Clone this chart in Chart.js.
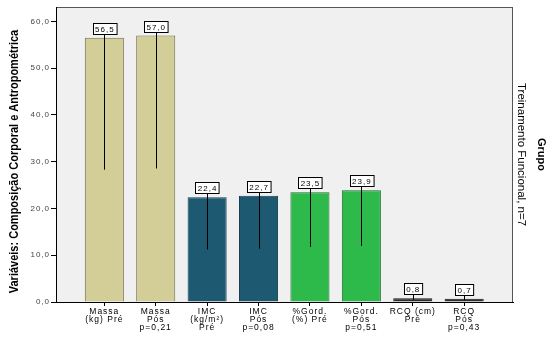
<!DOCTYPE html>
<html>
<head>
<meta charset="utf-8">
<script src="https://cdn.jsdelivr.net/npm/chart.js@4"></script>
<style>
    html, body { margin: 0; padding: 0; background: #fff; }
    #wrap { width: 559px; height: 340px; }
</style>
</head>
<body>
<div id="wrap"><canvas id="chart" width="559" height="340"></canvas></div>
<script>
'use strict'

const categories = [
    ['Massa', '(kg) Pré'],
    ['Massa', 'Pós', 'p=0,21'],
    ['IMC', '(kg/m²)', 'Pré'],
    ['IMC', 'Pós', 'p=0,08'],
    ['%Gord.', '(%) Pré'],
    ['%Gord.', 'Pós', 'p=0,51'],
    ['RCQ (cm)', 'Pré'],
    ['RCQ', 'Pós', 'p=0,43']
];
const values = [56.5, 57.0, 22.4, 22.7, 23.5, 23.9, 0.8, 0.7];
const barColors = ['#d3ce97', '#d3ce97', '#1d5a72', '#1d5a72', '#2eb94b', '#2eb94b', '#2c2c2c', '#2c2c2c'];
const barBorders = ['#6e6c4e', '#6e6c4e', '#163f50', '#163f50', '#1f6a30', '#1f6a30', '#1a1a1a', '#1a1a1a'];
const yTicks = [0, 10, 20, 30, 40, 50, 60];
const yTitle = 'Variáveis: Composição Corporal e Antropométrica';
const groupTitle = 'Grupo';
const groupName = 'Treinamento Funcional, n=7';

const positions = categories.map((c, i) => i + 1);
const fmt = v => v.toFixed(1).replace('.', ',');
const FONT = "'Liberation Sans', Arial, sans-serif";

function vText(ctx, text, x, y, font, angle, squeeze) {
    ctx.save();
    ctx.letterSpacing = '0px';
    ctx.fillStyle = '#000';
    ctx.textAlign = 'center';
    ctx.textBaseline = 'middle';
    ctx.font = font;
    ctx.translate(x, y);
    ctx.rotate(angle);
    ctx.scale(squeeze || 1, 1);
    ctx.fillText(text, 0, 0);
    ctx.restore();
}

const frame = {
    id: 'frame',
    beforeDraw(chart) {
        const { ctx, chartArea: a } = chart;
        // SPSS-style spaced lettering for tick and value labels
        ctx.letterSpacing = '1px';
        ctx.save();
        ctx.fillStyle = '#f0f0f0';
        ctx.fillRect(a.left, a.top, a.right - a.left, a.bottom - a.top);
        ctx.strokeStyle = '#555';
        ctx.lineWidth = 1;
        ctx.strokeRect(a.left + 0.5, a.top + 0.5, a.right - a.left - 1, a.bottom - a.top);
        ctx.restore();
    },
    afterDraw(chart) {
        const { ctx, chartArea: a } = chart;
        const cy = (a.top + a.bottom) / 2;
        vText(ctx, groupTitle, 541, cy, 'bold 11px ' + FONT, Math.PI / 2);
        vText(ctx, groupName, 521, cy, '11.5px ' + FONT, Math.PI / 2);
        vText(ctx, yTitle, 15, cy + 7, 'bold 12.5px ' + FONT, -Math.PI / 2, 0.88);
        ctx.letterSpacing = '0px';
    }
};

const valueBoxes = {
    id: 'valueBoxes',
    afterDatasetsDraw(chart) {
        const ctx = chart.ctx;
        const bars = chart.getDatasetMeta(0).data;
        ctx.save();
        ctx.font = '8px ' + FONT;
        ctx.textAlign = 'center';
        ctx.textBaseline = 'middle';
        bars.forEach((bar, i) => {
            const text = fmt(values[i]);
            const w = ctx.measureText(text).width + 4;
            const h = 11;
            const boxBottom = bar.y - 4;
            const mid = (bar.y + bar.base) / 2;
            ctx.strokeStyle = '#000';
            ctx.lineWidth = 1;
            if (mid > boxBottom) {
                ctx.beginPath();
                ctx.moveTo(Math.round(bar.x) + 0.5, mid);
                ctx.lineTo(Math.round(bar.x) + 0.5, boxBottom);
                ctx.stroke();
            }
            const left = Math.round(bar.x - w / 2) + 0.5;
            const top = Math.round(boxBottom - h) + 0.5;
            ctx.fillStyle = '#fff';
            ctx.fillRect(left, top, w, h);
            ctx.strokeRect(left, top, w, h);
            ctx.fillStyle = '#000';
            ctx.fillText(text, bar.x + 0.5, top + h / 2 + 0.5);
        });
        ctx.restore();
    }
};

new Chart(document.getElementById('chart'), {
    type: 'bar',
    data: {
        datasets: [{
            data: positions.map((x, i) => ({ x: x, y: values[i] })),
            backgroundColor: barColors,
            borderColor: barBorders,
            borderWidth: 1,
            categoryPercentage: 0.8,
            barPercentage: 0.95
        }]
    },
    options: {
        responsive: false,
        animation: false,
        layout: { padding: { top: 7, right: 46, left: 0, bottom: 0 } },
        plugins: {
            legend: { display: false },
            tooltip: { enabled: false }
        },
        scales: {
            x: {
                type: 'linear',
                min: 0.06,
                max: 8.95,
                offset: false,
                afterFit: scale => { scale.height = 38; },
                afterBuildTicks: scale => { scale.ticks = positions.map(v => ({ value: v })); },
                grid: { offset: false, drawOnChartArea: false, drawTicks: true, tickLength: 4, color: '#000' },
                border: { color: '#000', width: 1 },
                ticks: {
                    autoSkip: false,
                    maxRotation: 0,
                    padding: 2,
                    color: '#000',
                    font: { family: FONT, size: 8.5, lineHeight: 0.92 },
                    callback: v => categories[v - 1]
                }
            },
            y: {
                min: 0,
                max: 63.1,
                afterFit: scale => { scale.width = 56; },
                afterBuildTicks: scale => { scale.ticks = yTicks.map(v => ({ value: v })); },
                grid: { drawOnChartArea: false, drawTicks: true, tickLength: 5, color: '#000' },
                border: { color: '#000', width: 1 },
                ticks: {
                    padding: 1,
                    color: '#444',
                    font: { family: FONT, size: 8 },
                    callback: v => fmt(v)
                }
            }
        }
    },
    plugins: [frame, valueBoxes]
});
</script>
</body>
</html>
